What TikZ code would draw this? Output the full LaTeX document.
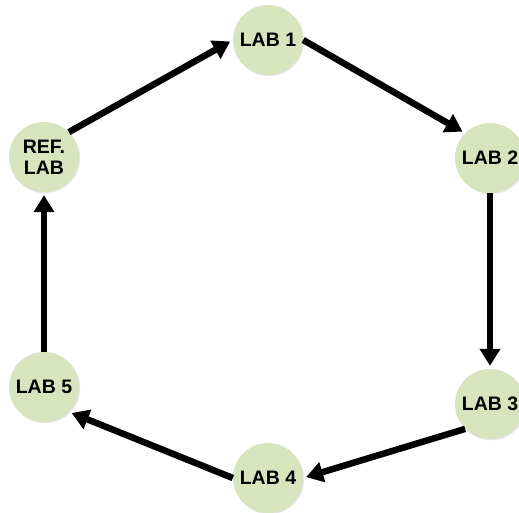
\documentclass[tikz,border=0pt]{standalone}
\usepackage{fontspec}
\setmainfont{Liberation Sans}
\usepackage{tikz}
\usetikzlibrary{arrows.meta, shadows}
\definecolor{labGreen}{RGB}{215, 228, 189}

\begin{document}
\begin{tikzpicture}[x=1pt, y=-1pt,
    lab/.style={circle, fill=labGreen, minimum size=70pt, inner sep=0pt,
      align=center, font=\fontsize{19.5}{21}\selectfont\bfseries,
      drop shadow={opacity=0.2, shadow xshift=1.2pt, shadow yshift=-1.2pt}},
    flow/.style={line width=6.5pt, -{Triangle[length=17pt, width=20pt]},
      shorten >=3pt}]
        \useasboundingbox (0,0) rectangle (519,513);
        \node[lab] (lab1) at (268,40) {LAB 1};
        \node[lab] (lab2) at (490,158) {LAB 2};
        \node[lab] (lab3) at (490,404) {LAB 3};
        \node[lab] (lab4) at (268,478) {LAB 4};
        \node[lab] (lab5) at (44,387) {LAB 5};
        \node[lab] (ref) at (44,157) {REF.\\LAB};
        \draw[flow] (ref.north east) -- (lab1.west);
        \draw[flow] (lab1.east) -- (lab2.north west);
        \draw[flow] (lab2.south) -- (lab3.north);
        \draw[flow] (lab3.south west) -- (lab4.east);
        \draw[flow] (lab4.west) -- (lab5.south east);
        \draw[flow] (lab5.north) -- (ref.south);
      \end{tikzpicture}
\end{document}
